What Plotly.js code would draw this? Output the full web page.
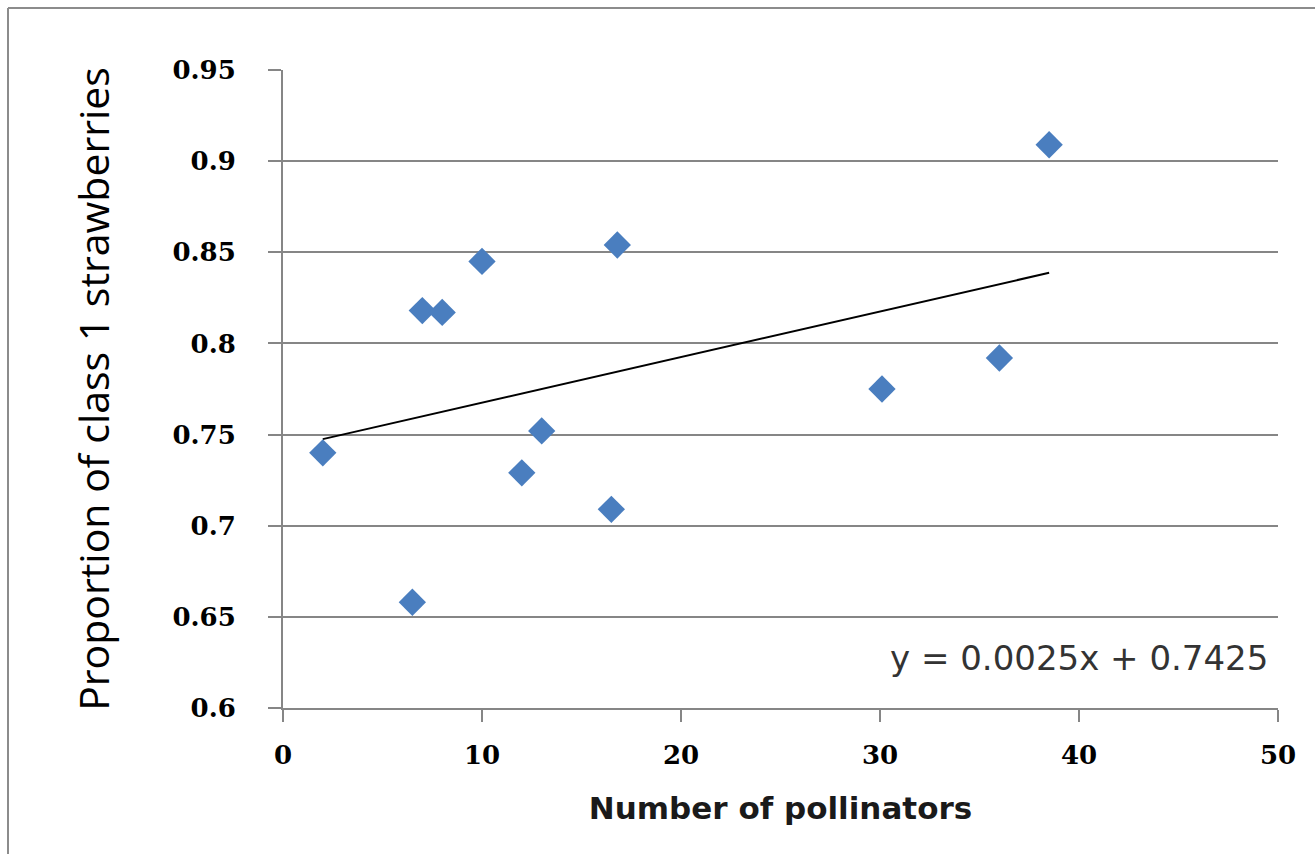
<!DOCTYPE html>
<html>
<head>
<meta charset="utf-8">
<script src="https://cdn.plot.ly/plotly-3.0.1.min.js"></script>
<style>
html,body{margin:0;padding:0;background:#fff;}
#chart{width:1315px;height:854px;}
</style>
</head>
<body>
<div id="chart"></div>
<script>
// Data
var pollinators = [2, 6.5, 7, 8, 10, 12, 13, 16.5, 16.8, 30.1, 36, 38.5];
var proportion  = [0.740, 0.658, 0.818, 0.817, 0.845, 0.729, 0.752, 0.709, 0.854, 0.775, 0.792, 0.909];
var trendSlope = 0.0025;
var trendIntercept = 0.7425;
var xTickVals = [0, 10, 20, 30, 40, 50];
var xTickText = ['0', '10', '20', '30', '40', '50'];
var yTickVals = [0.6, 0.65, 0.7, 0.75, 0.8, 0.85, 0.9, 0.95];
var yTickText = ['0.6', '0.65', '0.7', '0.75', '0.8', '0.85', '0.9', '0.95'];
var xTitle = 'Number of pollinators';
var yTitle = 'Proportion of class 1 strawberries';
var equationText = 'y = 0.0025x + 0.7425';

var xMin = Math.min.apply(null, pollinators);
var xMax = Math.max.apply(null, pollinators);
var trendX = [xMin, xMax];
var trendY = trendX.map(function (v) { return trendSlope * v + trendIntercept; });

var traces = [
  {
    x: trendX, y: trendY, type: 'scatter', mode: 'lines',
    line: {color: '#000000', width: 2}, hoverinfo: 'skip', showlegend: false
  },
  {
    x: pollinators, y: proportion, type: 'scatter', mode: 'markers',
    marker: {symbol: 'diamond', size: 21, color: '#4a7ebf', line: {width: 0}},
    showlegend: false
  }
];

var tickFont = {family: 'DejaVu Serif', size: 26, color: '#000000', weight: 'bold'};

var layout = {
  width: 1315, height: 854,
  paper_bgcolor: '#ffffff', plot_bgcolor: '#ffffff',
  margin: {l: 283, r: 37, t: 70, b: 146, pad: 0},
  showlegend: false,
  xaxis: {
    range: [0, 50], tickmode: 'array', tickvals: xTickVals, ticktext: xTickText,
    showgrid: false, zeroline: false,
    showline: true, linecolor: '#868686', linewidth: 2,
    ticks: 'outside', ticklen: 12, tickwidth: 2, tickcolor: '#868686',
    ticklabelstandoff: 11,
    tickfont: tickFont,
    title: {text: xTitle, standoff: 28, font: {family: 'DejaVu Sans', size: 31, color: '#1a1a1a', weight: 'bold'}},
    automargin: false
  },
  yaxis: {
    range: [0.6, 0.95], tickmode: 'array', tickvals: yTickVals, ticktext: yTickText,
    showgrid: true, gridcolor: '#868686', gridwidth: 2,
    zeroline: false,
    showline: true, linecolor: '#868686', linewidth: 2,
    ticks: 'outside', ticklen: 13, tickwidth: 2, tickcolor: '#868686',
    ticklabelstandoff: 27,
    tickfont: tickFont,
    title: {text: yTitle, standoff: 50, font: {family: 'Open Sans', size: 41, color: '#000000'}},
    automargin: false
  },
  annotations: [
    {
      text: equationText, xref: 'x', yref: 'y', x: 49.6, y: 0.6273,
      xanchor: 'right', yanchor: 'middle', showarrow: false,
      font: {family: 'DejaVu Sans', size: 34, color: '#333333'}
    }
  ],
  shapes: []
};

// page border along the top and left edge (~8px in from the page edge)
var plotW = 1315 - 283 - 37, plotH = 854 - 70 - 146;
var bx = (8 - 283) / plotW;
var by = 1 + (70 - 8) / plotH;
layout.shapes.push({type: 'line', xref: 'paper', yref: 'paper', x0: bx, x1: 1 + 40 / plotW, y0: by, y1: by,
  line: {color: '#8c8c8c', width: 2}});
layout.shapes.push({type: 'line', xref: 'paper', yref: 'paper', x0: bx, x1: bx, y0: by, y1: -160 / plotH,
  line: {color: '#8c8c8c', width: 2}});

Plotly.newPlot('chart', traces, layout, {displayModeBar: false, staticPlot: true});
</script>
</body>
</html>
